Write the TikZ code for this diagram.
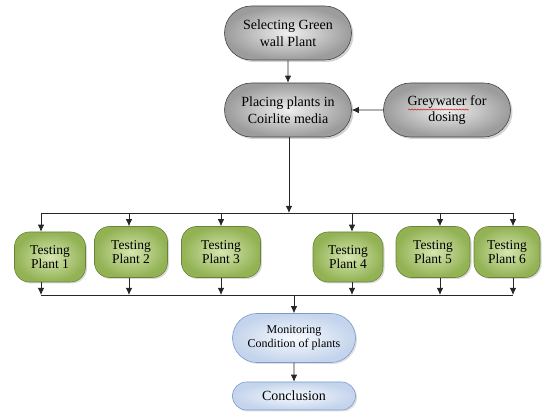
\documentclass[tikz,border=0pt]{standalone}
\usepackage{fontspec}
\setmainfont{Liberation Serif}
\usetikzlibrary{arrows.meta,shapes.misc,shadows,decorations.pathmorphing}
\definecolor{greenin}{RGB}{214,230,176}
\definecolor{greenout}{RGB}{146,178,84}
\definecolor{greenline}{RGB}{104,132,56}
\definecolor{bluein}{RGB}{247,250,254}
\definecolor{blueout}{RGB}{196,212,236}
\definecolor{blueline}{RGB}{125,155,205}
\begin{document}
\begin{tikzpicture}[x=1pt,y=-1pt,
  every node/.style={inner sep=2pt},
  greybox/.style={rounded rectangle, draw=gray!55!black, line width=0.6pt,
    inner color=gray!12, outer color=gray!78,
    drop shadow={opacity=0.35, shadow xshift=2pt, shadow yshift=-2pt},
    minimum width=131pt, minimum height=54pt, align=center,
    font=\fontsize{14}{16.5}\selectfont},
  testbox/.style={rectangle, rounded corners=15pt, draw=greenline, line width=0.6pt,
    inner color=greenin, outer color=greenout,
    drop shadow={opacity=0.3, shadow xshift=1.5pt, shadow yshift=-1.5pt},
    minimum height=51pt, align=center,
    font=\fontsize{13.5}{14.5}\selectfont},
  bluebox/.style={rounded rectangle, draw=blueline, line width=0.6pt,
    inner color=bluein, outer color=blueout,
    drop shadow={opacity=0.25, shadow xshift=1.5pt, shadow yshift=-1.5pt},
    minimum width=127pt, align=center},
  flow/.style={draw=black!85, line width=0.8pt},
  arr/.style={flow, -{Latex[length=7pt,width=6.5pt]}}
]
\useasboundingbox (0,0) rectangle (542,419);

% upper stage
\node[greybox] (select) at (288,33) {Selecting Green\\wall Plant};
\node[greybox] (place) at (288,110) {Placing plants in\\Coirlite media};
\node[greybox] (grey) at (447,110) {Greywater for\\dosing};
\draw[red!80!black, line width=0.4pt, decorate,
  decoration={snake, amplitude=0.6pt, segment length=3pt}] (408,109.5) -- (469,109.5);

% testing stage
\node[testbox, minimum width=71pt, minimum height=50pt] (t1) at (50,257) {Testing\\Plant 1};
\node[testbox, minimum width=73pt] (t2) at (131,252) {Testing\\Plant 2};
\node[testbox, minimum width=79pt] (t3) at (221,252) {Testing\\Plant 3};
\node[testbox, minimum width=70pt, minimum height=50pt] (t4) at (348,257) {Testing\\Plant 4};
\node[testbox, minimum width=74pt] (t5) at (433,252) {Testing\\Plant 5};
\node[testbox, minimum width=66pt] (t6) at (507,252) {Testing\\Plant 6};

% final stage
\node[bluebox, minimum height=49pt, font=\fontsize{12}{13.5}\selectfont] (mon) at (294,338) {Monitoring\\Condition of plants};
\node[bluebox, minimum height=28pt, font=\fontsize{14}{15}\selectfont] (conc) at (294,396) {Conclusion};

% distribution and collection buses
\coordinate (split) at (289,213);
\coordinate (join) at (294,295);
\coordinate (d1) at (41,213);
\coordinate (d2) at (129,213);
\coordinate (d3) at (221,213);
\coordinate (d4) at (352,213);
\coordinate (d5) at (440,213);
\coordinate (d6) at (513,213);

\draw[arr] (select) -- (place);
\draw[arr] (grey) -- (place);
\draw[arr] (place.south -| split) -- (split);
\draw[flow] (d1) -- (d6);
\draw[flow] (d1 |- join) -- (d6 |- join);
\foreach \i in {1,...,6}{
  \draw[arr] (d\i) -- (d\i |- t\i.north);
  \draw[arr] (d\i |- t\i.south) -- (d\i |- join);
}
\draw[arr] (join) -- (mon);
\draw[arr] (mon) -- (conc);
\end{tikzpicture}
\end{document}
